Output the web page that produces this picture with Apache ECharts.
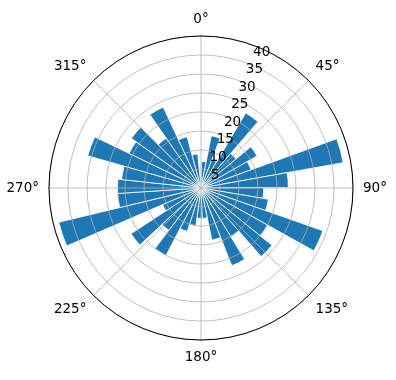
<!DOCTYPE html>
<html><head><meta charset="utf-8">
<script src="https://cdn.jsdelivr.net/npm/echarts@6/dist/echarts.min.js"></script>
<style>html,body{margin:0;padding:0;background:#fff}#c{width:396px;height:380px}</style>
</head><body><div id="c"></div>
<script>
// histogram bin edges (degrees, clockwise from north)
const binStarts = [1.4,11.21,21.02,30.83,40.64,50.45,60.26,70.07,79.88,89.69,99.5,109.31,
                   119.12,128.93,138.74,148.55,158.36,168.17,177.98,187.79,197.6,207.41,217.22,227.03,
                   236.84,246.65,256.46,266.27,276.08,285.89,295.7,305.51,315.32,325.13,334.94,344.75];
const binEnds   = [11.21,21.02,30.83,40.64,50.45,60.26,70.07,79.88,89.69,99.5,109.31,119.12,
                   128.93,138.74,148.55,158.36,168.17,177.98,187.79,197.6,207.41,217.22,227.03,236.84,
                   246.65,256.46,266.27,276.08,285.89,295.7,305.51,315.32,325.13,334.94,344.75,354.56];
const counts = [7,14,8,23,12,17,14,38,23,16.5,18,34,20,24,15,22,14,8,
                8,10,12,20,14,22,11,38.5,22,22,21,31,21,22.5,16,23.5,14,9];
const angleTicks = [0,45,90,135,180,225,270,315];
const radiusTicks = [5,10,15,20,25,30,35,40];

const C = [201, 188], R = 152, FONT = 'DejaVu Sans';
const chart = echarts.init(document.getElementById('c'), null, {renderer:'canvas'});
chart.setOption({
  animation: false,
  polar: [
    {center: C, radius: R},
    {center: C, radius: R}
  ],
  angleAxis: [
    {polarIndex:0, type:'value', min:0, max:360, interval:45, startAngle:90, clockwise:true, z:10,
     axisLine:{show:true, lineStyle:{color:'#000', width:1}}, axisTick:{show:false},
     axisLabel:{show:true, margin:10, color:'#000', fontFamily:FONT, fontSize:13.5,
       formatter: v => (angleTicks.indexOf(v) >= 0 ? v + '°' : '')},
     splitLine:{show:true, lineStyle:{color:'#b0b0b0', width:0.8}}},
    {polarIndex:1, type:'value', min:0, max:360, startAngle:67.5, clockwise:true,
     axisLine:{show:false}, axisTick:{show:false}, axisLabel:{show:false}, splitLine:{show:false}}
  ],
  radiusAxis: [
    {polarIndex:0, type:'value', min:0, max:40, interval:5, z:10, axisLine:{show:false}, axisTick:{show:false}, axisLabel:{show:false},
     splitLine:{show:true, lineStyle:{color:'#b0b0b0', width:0.8}}},
    {polarIndex:1, type:'value', min:0, max:40, interval:5, z:11, axisLine:{show:false}, axisTick:{show:false}, splitLine:{show:false},
     axisLabel:{show:true, color:'#000', fontFamily:FONT, fontSize:13.5, margin:-12,
       formatter: v => (radiusTicks.indexOf(v) >= 0 ? String(v) : '')}}
  ],
  series: [{
    type:'custom', coordinateSystem:'polar', polarIndex:0, z:2,
    data: counts.map((v, i) => [binStarts[i], binEnds[i], v]),
    encode: {angle: [0, 1], radius: 2},
    renderItem: function (params, api) {
      const cs = params.coordSys;
      const v = api.value(2);
      const p0 = api.coord([v, api.value(0)]);
      const p1 = api.coord([v, api.value(1)]);
      const r = Math.hypot(p0[0] - cs.cx, p0[1] - cs.cy);
      let a0 = Math.atan2(p0[1] - cs.cy, p0[0] - cs.cx);
      let a1 = Math.atan2(p1[1] - cs.cy, p1[0] - cs.cx);
      if (a1 < a0) a1 += Math.PI * 2;
      return {
        type:'sector',
        shape:{cx: cs.cx, cy: cs.cy, r0: 0, r: r, startAngle: a0, endAngle: a1, clockwise: true},
        style:{fill:'#1f77b4', stroke:'#ffffff', lineWidth:0.8}
      };
    }
  }]
});
</script></body></html>
